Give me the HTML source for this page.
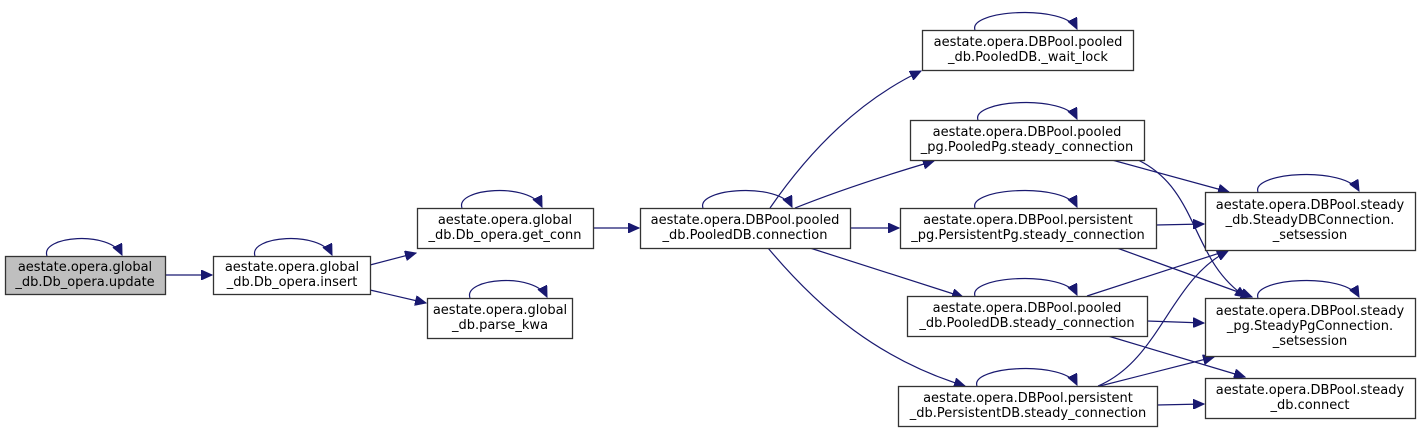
<!DOCTYPE html>
<html><head><meta charset="utf-8"><style>
html,body{margin:0;padding:0;background:#fff;width:1421px;height:433px;overflow:hidden}
svg text{font-family:"DejaVu Sans","Liberation Sans",sans-serif;font-size:13px;fill:#000}
</style></head><body>
<svg width="1421" height="433" viewBox="0 0 1421 433" xmlns="http://www.w3.org/2000/svg">
<defs>
<marker id="a" markerUnits="userSpaceOnUse" markerWidth="12" markerHeight="10" refX="11" refY="5" orient="auto">
<path d="M0,0 L11,5 L0,10 Z" fill="#191970" stroke="#191970"/>
</marker>
</defs>
<g fill="none" stroke="#191970" stroke-width="1.2" marker-end="url(#a)">
<path d="M47,256 C40,236 110,230 122,255"/>
<path d="M255,256 C248,236 320,230 332,255"/>
<path d="M462,208 C455,188 530,182 542,207"/>
<path d="M470,298 C463,278 535,272 547,297"/>
<path d="M703,208 C696,188 780,182 792,207"/>
<path d="M975,30 C968,10 1065,4 1077,29"/>
<path d="M978,120 C971,100 1065,94 1077,119"/>
<path d="M975,208 C968,188 1065,182 1077,207"/>
<path d="M975,296 C968,276 1065,270 1077,295"/>
<path d="M977,386 C970,366 1065,360 1077,385"/>
<path d="M1258,192 C1251,172 1345,166 1359,191"/>
<path d="M1258,298 C1251,278 1345,272 1359,297"/>
<path d="M165,275 L212,275"/>
<path d="M370,265 L416,253"/>
<path d="M370,290 L426,303"/>
<path d="M593,228 L639,228"/>
<path d="M770,208 C810,150 860,100 921,71"/>
<path d="M795,208 C840,190 890,174 934,161"/>
<path d="M850,228 L899,228"/>
<path d="M810,248 L963,297"/>
<path d="M768,248 C820,310 880,360 965,386"/>
<path d="M1112,160 L1229,192"/>
<path d="M1138,160 C1200,190 1190,260 1246,297"/>
<path d="M1156,225 L1204,224"/>
<path d="M1117,248 L1252,297"/>
<path d="M1087,296 L1229,250"/>
<path d="M1147,321 L1204,323"/>
<path d="M1108,336 L1245,377"/>
<path d="M1098,386 C1160,360 1170,280 1228,251"/>
<path d="M1100,386 L1214,357"/>
<path d="M1157,405 L1204,404"/>
</g>
<g stroke="#333" stroke-width="1.3">
<rect x="5.5" y="256.5" width="160" height="38" fill="#bfbfbf"/>
<rect x="213.5" y="256.5" width="157" height="38" fill="#fff"/>
<rect x="417.5" y="208.5" width="176" height="40" fill="#fff"/>
<rect x="427.5" y="298.5" width="145" height="40" fill="#fff"/>
<rect x="640.5" y="208.5" width="210" height="40" fill="#fff"/>
<rect x="922.5" y="30.5" width="211" height="40" fill="#fff"/>
<rect x="910.5" y="120.5" width="234" height="40" fill="#fff"/>
<rect x="900.5" y="208.5" width="256" height="40" fill="#fff"/>
<rect x="907.5" y="296.5" width="240" height="40" fill="#fff"/>
<rect x="898.5" y="386.5" width="259" height="40" fill="#fff"/>
<rect x="1205.5" y="192.5" width="210" height="58" fill="#fff"/>
<rect x="1205.5" y="298.5" width="210" height="58" fill="#fff"/>
<rect x="1205.5" y="378.5" width="210" height="40" fill="#fff"/>
</g>
<g text-anchor="middle">
<text x="85" y="271">aestate.opera.global</text><text x="85" y="286">_db.Db_opera.update</text>
<text x="292" y="271">aestate.opera.global</text><text x="292" y="286">_db.Db_opera.insert</text>
<text x="505" y="224">aestate.opera.global</text><text x="505" y="239">_db.Db_opera.get_conn</text>
<text x="500" y="314">aestate.opera.global</text><text x="500" y="329">_db.parse_kwa</text>
<text x="745" y="224">aestate.opera.DBPool.pooled</text><text x="745" y="239">_db.PooledDB.connection</text>
<text x="1028" y="46">aestate.opera.DBPool.pooled</text><text x="1028" y="61">_db.PooledDB._wait_lock</text>
<text x="1027" y="136">aestate.opera.DBPool.pooled</text><text x="1027" y="151">_pg.PooledPg.steady_connection</text>
<text x="1028" y="224">aestate.opera.DBPool.persistent</text><text x="1028" y="239">_pg.PersistentPg.steady_connection</text>
<text x="1027" y="312">aestate.opera.DBPool.pooled</text><text x="1027" y="327">_db.PooledDB.steady_connection</text>
<text x="1028" y="402">aestate.opera.DBPool.persistent</text><text x="1028" y="417">_db.PersistentDB.steady_connection</text>
<text x="1310" y="209">aestate.opera.DBPool.steady</text><text x="1310" y="224">_db.SteadyDBConnection.</text><text x="1310" y="239">_setsession</text>
<text x="1310" y="315">aestate.opera.DBPool.steady</text><text x="1310" y="330">_pg.SteadyPgConnection.</text><text x="1310" y="345">_setsession</text>
<text x="1310" y="394">aestate.opera.DBPool.steady</text><text x="1310" y="409">_db.connect</text>
</g>
</svg>
</body></html>
